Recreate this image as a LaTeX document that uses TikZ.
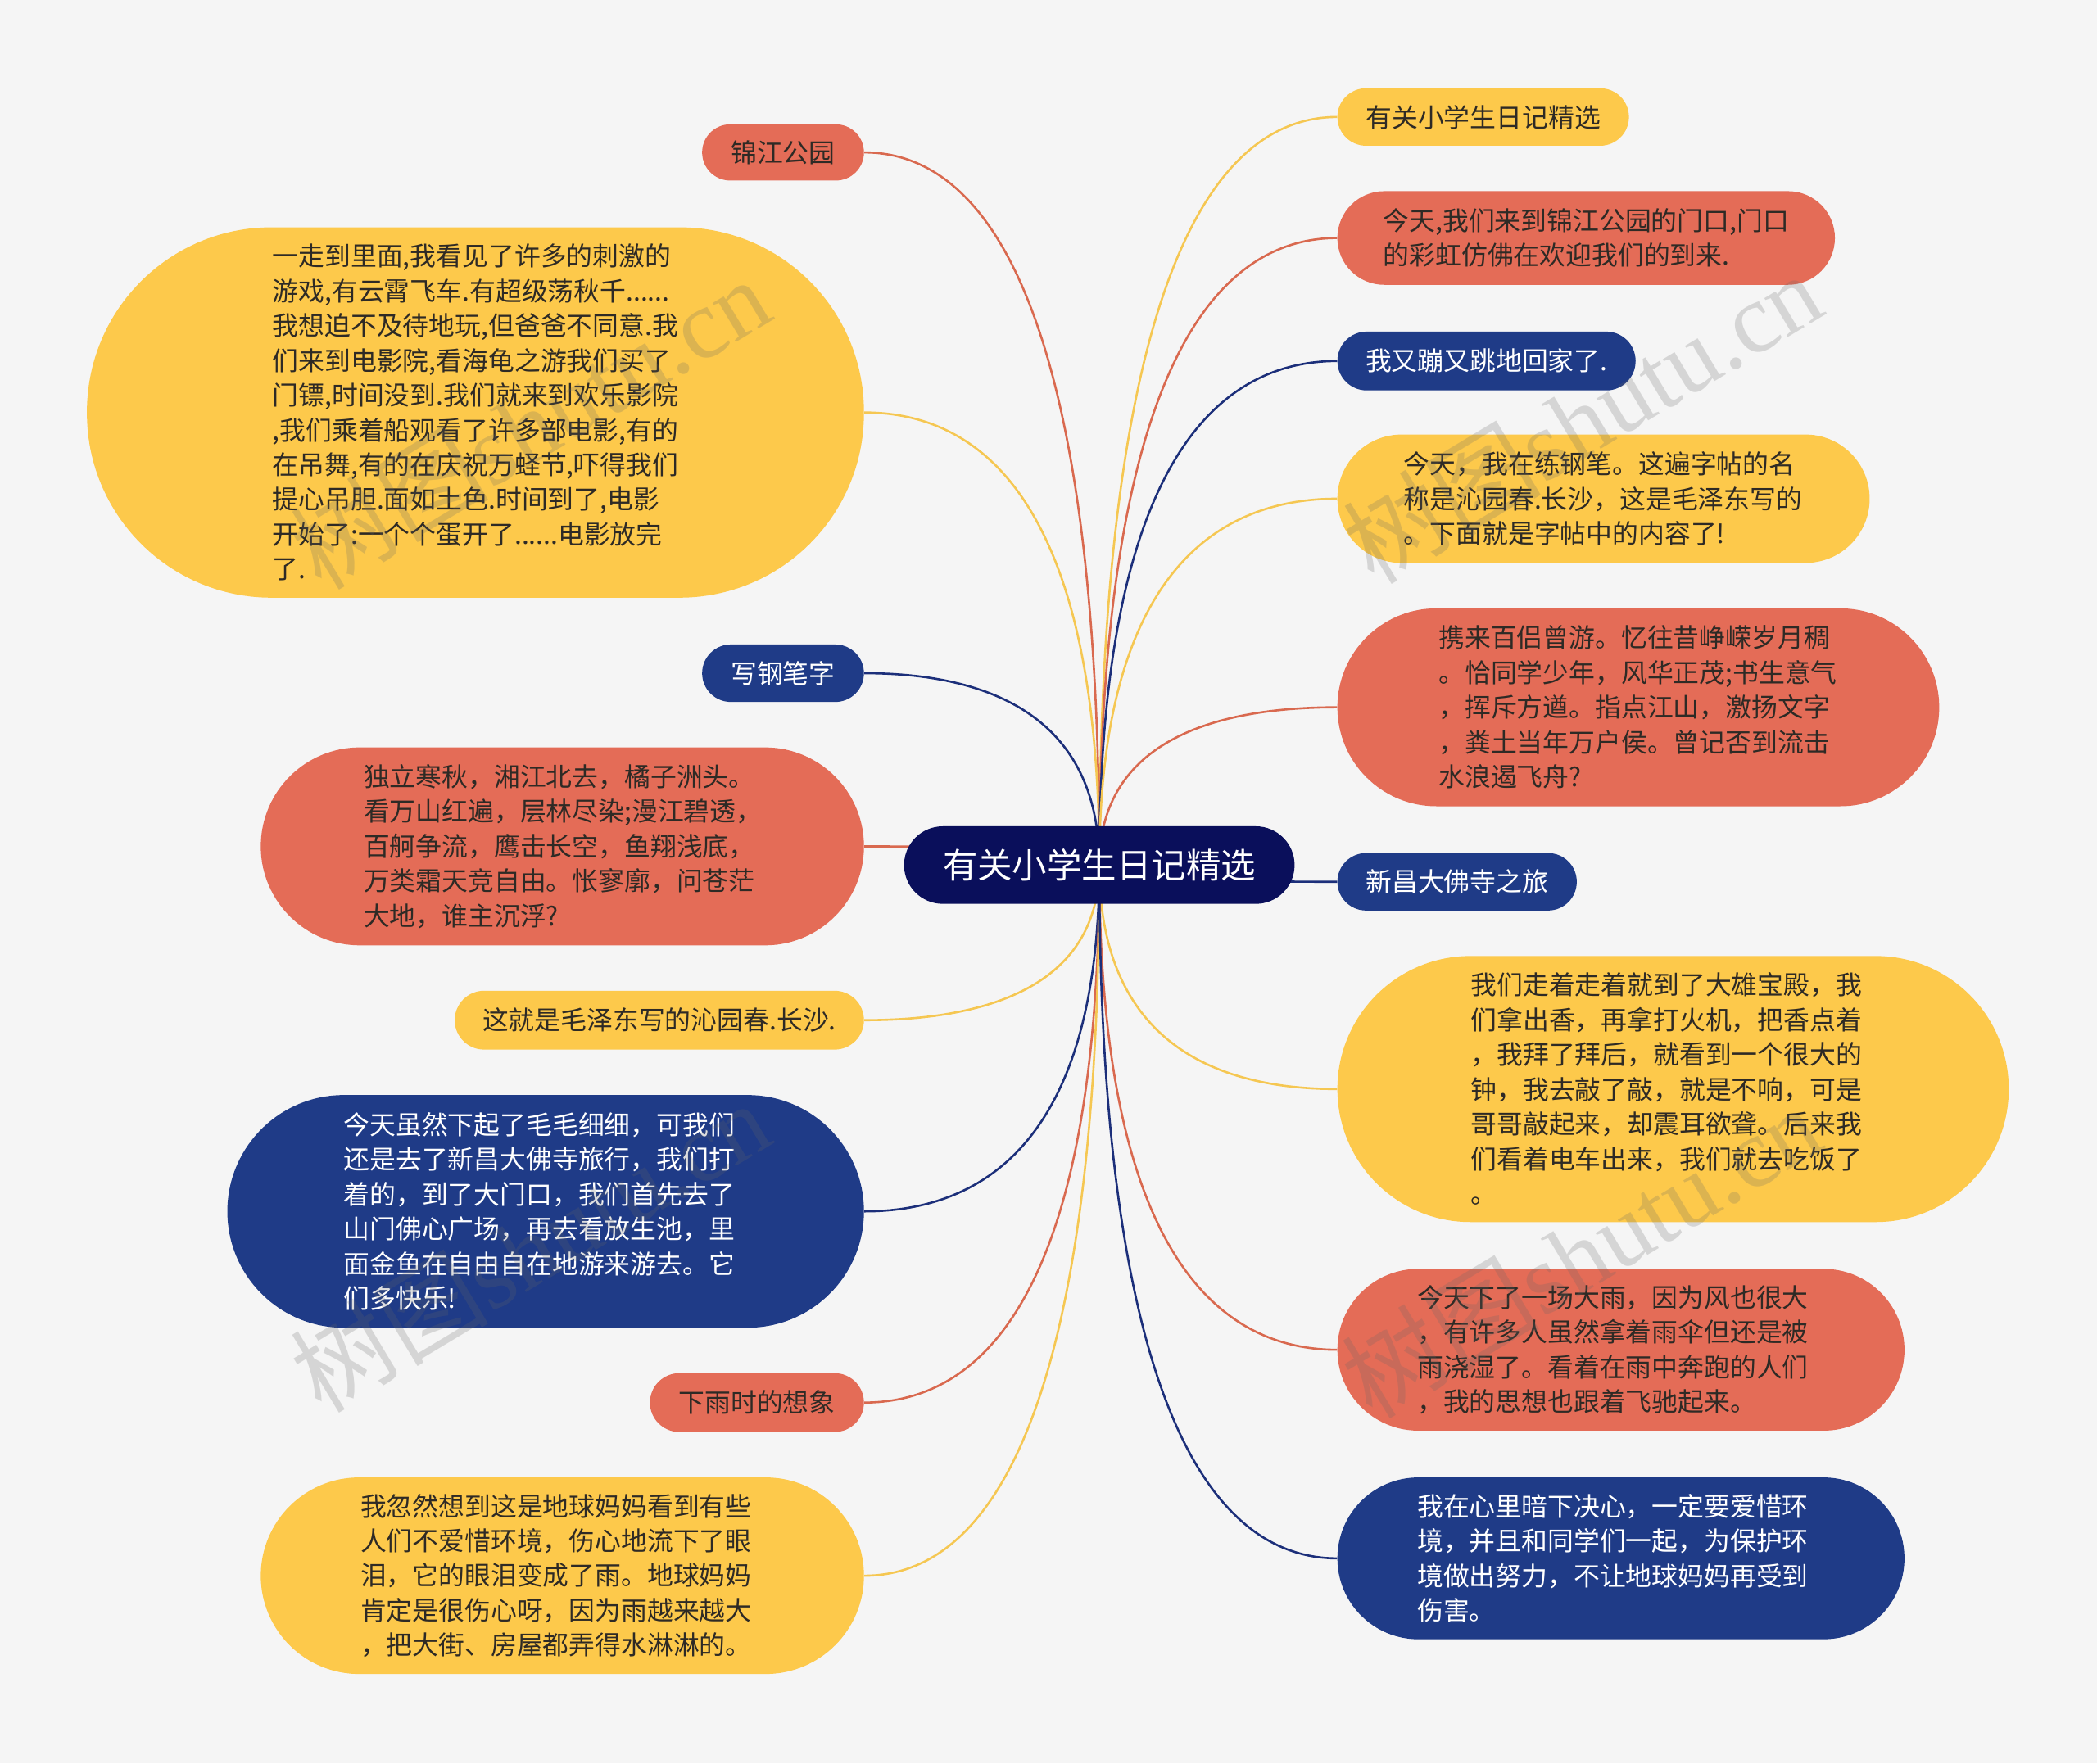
\documentclass[tikz,border=0pt]{standalone}
\usepackage{fontspec}
\newfontfamily\cjk{Noto Sans CJK SC}
\newfontfamily\wmserif{Liberation Serif}
\usetikzlibrary{calc}
\pgfdeclarelayer{bg}
\pgfdeclarelayer{lines}
\pgfsetlayers{bg,lines,main}
\definecolor{mmyellow}{HTML}{FDC94B}
\definecolor{mmorange}{HTML}{E46C57}
\definecolor{mmblue}{HTML}{1F3B87}
\definecolor{mmnavy}{HTML}{0A0F5B}
\definecolor{mmbg}{HTML}{F5F5F5}
\definecolor{mmtext}{HTML}{2E2A25}
\definecolor{lnyellow}{HTML}{F5C752}
\definecolor{lnorange}{HTML}{D9694F}
\definecolor{lnblue}{HTML}{1C2F7A}
\tikzset{
  box/.style={rectangle, inner sep=0pt, align=left, font=\cjk\fontsize{19.5}{26}\selectfont},
  yel/.style={box, fill=mmyellow, text=mmtext},
  ora/.style={box, fill=mmorange, text=mmtext},
  blu/.style={box, fill=mmblue, text=white},
  conn/.style={line width=1.6pt},
  wm/.style={opacity=0.22, text=black!60, rotate=31, inner sep=0pt}
}
\newcommand\mmconn[3]{%
  \draw[conn, #1] (c.center) .. controls ($(c.center)!0.8!(c.center|-#2.#3)$) and ($(c.center|-#2.#3)!0.5!(#2.#3)$) .. (#2.#3);}
\begin{document}
\begin{tikzpicture}[x=1pt, y=-1pt]
\useasboundingbox (0,0) rectangle (1568,1319);
\begin{pgfonlayer}{bg}
\fill[mmbg] (0,0) rectangle (1568,1319);
\end{pgfonlayer}

% center
\node[fill=mmnavy, text=white, inner sep=0pt, font=\cjk\fontsize{26}{30}\selectfont,
  minimum width=292pt, minimum height=58pt, rounded corners=29pt] (c) at (822,647) {有关小学生日记精选};

% left side
\node[ora, minimum width=121pt, minimum height=42pt, rounded corners=21pt] (L1) at (585.5,114) {锦江公园};
\node[yel, minimum width=581pt, minimum height=277pt, rounded corners=138pt] (L2) at (355.5,308.5) {一走到里面,我看见了许多的刺激的\\
游戏,有云霄飞车.有超级荡秋千......\\
我想迫不及待地玩,但爸爸不同意.我\\
们来到电影院,看海龟之游我们买了\\
门镖,时间没到.我们就来到欢乐影院\\
,我们乘着船观看了许多部电影,有的\\
在吊舞,有的在庆祝万蛏节,吓得我们\\
提心吊胆.面如土色.时间到了,电影\\
开始了:一个个蛋开了......电影放完\\
了.};
\node[blu, minimum width=121pt, minimum height=43pt, rounded corners=21.5pt] (L3) at (585.5,503.5) {写钢笔字};
\node[ora, text width=297pt, minimum width=451pt, minimum height=148pt, rounded corners=74pt] (L4) at (420.5,633) {独立寒秋，湘江北去，橘子洲头。\\
看万山红遍，层林尽染;漫江碧透，\\
百舸争流，鹰击长空，鱼翔浅底，\\
万类霜天竞自由。怅寥廓，问苍茫\\
大地，谁主沉浮?};
\node[yel, minimum width=306pt, minimum height=44pt, rounded corners=22pt] (L5) at (493,763) {这就是毛泽东写的沁园春.长沙.};
\node[blu, text width=302pt, minimum width=476pt, minimum height=174pt, rounded corners=87pt] (L6) at (408,906) {今天虽然下起了毛毛细细，可我们\\
还是去了新昌大佛寺旅行，我们打\\
着的，到了大门口，我们首先去了\\
山门佛心广场，再去看放生池，里\\
面金鱼在自由自在地游来游去。它\\
们多快乐!};
\node[ora, minimum width=160pt, minimum height=44pt, rounded corners=22pt] (L7) at (566,1049) {下雨时的想象};
\node[yel, text width=302pt, minimum width=451pt, minimum height=147pt, rounded corners=73.5pt] (L8) at (420.5,1178.5) {我忽然想到这是地球妈妈看到有些\\
人们不爱惜环境，伤心地流下了眼\\
泪，它的眼泪变成了雨。地球妈妈\\
肯定是很伤心呀，因为雨越来越大\\
，把大街、房屋都弄得水淋淋的。};

% right side
\node[yel, minimum width=218pt, minimum height=43pt, rounded corners=21.5pt] (R1) at (1109,87.5) {有关小学生日记精选};
\node[ora, minimum width=372pt, minimum height=70pt, rounded corners=35pt] (R2) at (1186,178) {今天,我们来到锦江公园的门口,门口\\
的彩虹仿佛在欢迎我们的到来.};
\node[blu, minimum width=223pt, minimum height=44pt, rounded corners=22pt] (R3) at (1111.5,270) {我又蹦又跳地回家了.};
\node[yel, text width=298.5pt, minimum width=398pt, minimum height=96pt, rounded corners=48pt] (R4) at (1199,373) {今天，我在练钢笔。这遍字帖的名\\
称是沁园春.长沙，这是毛泽东写的\\
。下面就是字帖中的内容了!};
\node[ora, text width=298.5pt, minimum width=450pt, minimum height=148pt, rounded corners=74pt] (R5) at (1225,529) {携来百侣曾游。忆往昔峥嵘岁月稠\\
。恰同学少年，风华正茂;书生意气\\
，挥斥方遒。指点江山，激扬文字\\
，粪土当年万户侯。曾记否到流击\\
水浪遏飞舟?};
\node[blu, minimum width=179pt, minimum height=43pt, rounded corners=21.5pt] (R6) at (1089.5,659.5) {新昌大佛寺之旅};
\node[yel, text width=302.5pt, minimum width=502pt, minimum height=199pt, rounded corners=99.5pt] (R7) at (1251,814.5) {我们走着走着就到了大雄宝殿，我\\
们拿出香，再拿打火机，把香点着\\
，我拜了拜后，就看到一个很大的\\
钟，我去敲了敲，就是不响，可是\\
哥哥敲起来，却震耳欲聋。后来我\\
们看着电车出来，我们就去吃饭了\\
。};
\node[ora, text width=304.5pt, minimum width=424pt, minimum height=121pt, rounded corners=60.5pt] (R8) at (1212,1009.5) {今天下了一场大雨，因为风也很大\\
，有许多人虽然拿着雨伞但还是被\\
雨浇湿了。看着在雨中奔跑的人们\\
，我的思想也跟着飞驰起来。};
\node[blu, text width=304.5pt, minimum width=424pt, minimum height=121pt, rounded corners=60.5pt] (R9) at (1212,1165.5) {我在心里暗下决心，一定要爱惜环\\
境，并且和同学们一起，为保护环\\
境做出努力，不让地球妈妈再受到\\
伤害。};

% connectors
\begin{pgfonlayer}{lines}
\mmconn{lnorange}{L1}{east}
\mmconn{lnyellow}{L2}{east}
\mmconn{lnblue}{L3}{east}
\mmconn{lnorange}{L4}{east}
\mmconn{lnyellow}{L5}{east}
\mmconn{lnblue}{L6}{east}
\mmconn{lnorange}{L7}{east}
\mmconn{lnyellow}{L8}{east}
\mmconn{lnyellow}{R1}{west}
\mmconn{lnorange}{R2}{west}
\mmconn{lnblue}{R3}{west}
\mmconn{lnyellow}{R4}{west}
\mmconn{lnorange}{R5}{west}
\mmconn{lnblue}{R6}{west}
\mmconn{lnyellow}{R7}{west}
\mmconn{lnorange}{R8}{west}
\mmconn{lnblue}{R9}{west}
\end{pgfonlayer}

% watermarks
\node[wm] (w1) at (396,316) {\cjk\fontsize{74}{78}\selectfont 树图\wmserif shutu.cn};
\node[wm] (w2) at (1183,312) {\cjk\fontsize{74}{78}\selectfont 树图\wmserif shutu.cn};
\node[wm] (w3) at (396,932) {\cjk\fontsize{74}{78}\selectfont 树图\wmserif shutu.cn};
\node[wm] (w4) at (1182,936) {\cjk\fontsize{74}{78}\selectfont 树图\wmserif shutu.cn};
\end{tikzpicture}
\end{document}
